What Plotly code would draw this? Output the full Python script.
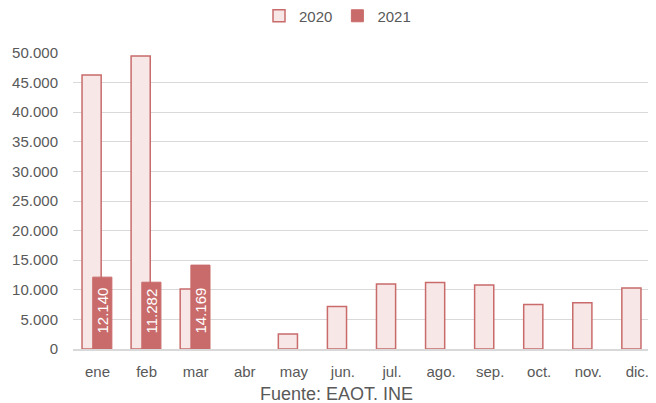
import plotly.graph_objects as go

months = ["ene", "feb", "mar", "abr", "may", "jun.", "jul.", "ago.", "sep.", "oct.", "nov.", "dic."]
values_2020 = [46300, 49500, 10150, None, 2550, 7200, 11000, 11250, 10800, 7500, 7800, 10300]
months_2021 = ["ene", "feb", "mar"]
values_2021 = [12140, 11282, 14169]
labels_2021 = ["12.140", "11.282", "14.169"]
y_ticks = [0, 5000, 10000, 15000, 20000, 25000, 30000, 35000, 40000, 45000, 50000]
y_tick_labels = ["0", "5.000", "10.000", "15.000", "20.000", "25.000", "30.000",
                 "35.000", "40.000", "45.000", "50.000"]

FONT = "Liberation Sans"
GRAY = "#595959"
RED = "#c96b6b"

# page body has an 8px margin, so the figure is shifted by 8px
W, H = 648, 395

fig = go.Figure()
fig.add_trace(go.Bar(
    name="2020", x=months, y=values_2020,
    width=0.39, offset=-0.316,
    marker=dict(color="#f7e7e7", line=dict(color=RED, width=1.5)),
))
fig.add_trace(go.Bar(
    name="2021", x=months_2021, y=values_2021,
    width=0.39, offset=-0.098,
    marker=dict(color=RED, line=dict(color=RED, width=1)),
    text=["\u00a0\u00a0\u00a0" + t for t in labels_2021],
    textposition="inside", insidetextanchor="start",
    textangle=-90, textfont=dict(color="white", size=15, family=FONT),
))

fig.update_layout(
    width=W, height=H,
    margin=dict(l=65, r=0, t=45, b=54, autoexpand=False),
    barmode="overlay",
    plot_bgcolor="white", paper_bgcolor="white",
    font=dict(family=FONT, size=15, color=GRAY),
    legend=dict(orientation="h", x=(337.5 - 73) / 583, xanchor="center",
                y=1 + (53 - 16) / 296, yanchor="middle",
                font=dict(size=15, color=GRAY), traceorder="normal"),
    uniformtext=dict(minsize=15, mode="show"),
)
fig.update_xaxes(
    categoryorder="array", categoryarray=months,
    range=[-0.5, 11.38],
    showline=True, linecolor="#d9d9d9", linewidth=1.5,
    ticks="", tickfont=dict(size=15, color=GRAY),
    ticklabelstandoff=8,
    showgrid=False,
)
fig.update_yaxes(
    range=[0, 50000], tickvals=y_ticks, ticktext=y_tick_labels,
    showgrid=True, gridcolor="#d9d9d9", gridwidth=1,
    zeroline=False, ticks="", tickfont=dict(size=15, color=GRAY),
    ticklabelstandoff=14,
)
fig.add_annotation(
    text="Fuente: EAOT. INE", xref="paper", yref="paper",
    x=(336 - 73) / 583, y=-(394 - 349) / 296, xanchor="center", yanchor="middle",
    showarrow=False, font=dict(size=18, color=GRAY, family=FONT),
)
fig.write_html("out.html")
